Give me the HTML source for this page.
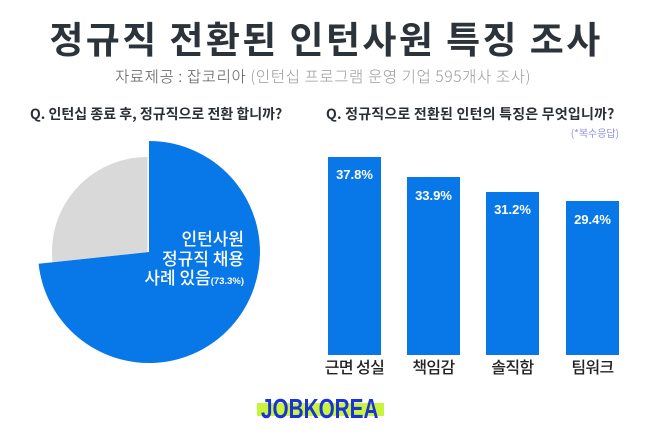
<!DOCTYPE html>
<html><head><meta charset="utf-8">
<style>
html,body{margin:0;padding:0;background:#fff;}
body{width:650px;height:439px;position:relative;overflow:hidden;font-family:"Liberation Sans","Noto Sans CJK KR",sans-serif;}
.kr{font-family:"Noto Sans CJK KR","Liberation Sans",sans-serif;}
.abs{position:absolute;white-space:nowrap;}
.bar{position:absolute;background:#0877e7;}
.bl{position:absolute;width:80px;text-align:center;color:#fff;font-weight:bold;font-size:13px;line-height:13px;font-family:"Liberation Sans","Noto Sans CJK KR",sans-serif;}
.cat{position:absolute;width:90px;text-align:center;color:#222;font-size:16px;line-height:16px;letter-spacing:-0.6px;font-weight:500;}
</style></head><body>

<div class="abs kr" style="left:0;width:652px;text-align:center;top:19px;font-size:37px;line-height:36px;font-weight:bold;color:#2c333a;letter-spacing:2.4px;">정규직 전환된 인턴사원 특징 조사</div>

<div class="abs kr" style="left:0;width:646px;text-align:center;top:68px;font-size:15.5px;line-height:16px;font-weight:300;color:#9a9a9a;letter-spacing:0.6px;"><span style="color:#555;">자료제공 : 잡코리아</span> (인턴십 프로그램 운영 기업 595개사 조사)</div>

<div class="abs kr" style="left:30px;top:107px;font-size:14px;line-height:15px;font-weight:bold;color:#2a2f35;letter-spacing:0px;">Q. 인턴십 종료 후, 정규직으로 전환 합니까?</div>

<div class="abs kr" style="left:326px;top:107px;font-size:14px;line-height:15px;font-weight:bold;color:#2a2f35;letter-spacing:0.2px;">Q. 정규직으로 전환된 인턴의 특징은 무엇입니까?</div>

<div class="abs kr" style="right:31px;top:128px;font-size:10px;line-height:10px;color:#8d92e0;">(*복수응답)</div>

<svg class="abs" style="left:0;top:0;" width="650" height="439">
  <path d="M147.5,252 L52.5,262.1 A95,95 0 0 1 147.5,157 Z" fill="#d9d9d9"/>
  <path d="M149,252 L149,141 A111,111 0 1 1 38.6,263.8 Z" fill="#0877e7"/>
</svg>

<div class="abs kr" style="right:406px;top:228px;text-align:right;color:#fff;font-size:17px;line-height:19.5px;font-weight:500;">인턴사원<br>정규직 채용<br>사례 있음<span style="font-size:9.5px;font-weight:bold;font-family:'Liberation Sans',sans-serif;">(73.3%)</span></div>

<div class="bar" style="left:328px;top:157px;width:53px;height:198px;"></div>
<div class="bar" style="left:407px;top:177px;width:53px;height:178px;"></div>
<div class="bar" style="left:486px;top:192px;width:53px;height:163px;"></div>
<div class="bar" style="left:566px;top:201px;width:53px;height:154px;"></div>

<div class="bl" style="left:314.5px;top:168px;">37.8%</div>
<div class="bl" style="left:393.5px;top:188.5px;">33.9%</div>
<div class="bl" style="left:472.5px;top:203px;">31.2%</div>
<div class="bl" style="left:552.5px;top:212.5px;">29.4%</div>

<div class="cat kr" style="left:309.5px;top:358px;">근면 성실</div>
<div class="cat kr" style="left:388.5px;top:358px;">책임감</div>
<div class="cat kr" style="left:467.5px;top:358px;">솔직함</div>
<div class="cat kr" style="left:547.5px;top:358px;">팀워크</div>

<div class="abs" style="left:257px;top:403px;width:127px;height:13px;background:#c8f43c;"></div>
<div class="abs" style="left:261px;top:395px;font-family:'Liberation Sans',sans-serif;font-weight:bold;font-size:28px;line-height:28px;color:#1c32d8;transform:scaleX(0.74);transform-origin:0 0;">JOBKOREA</div>

</body></html>
